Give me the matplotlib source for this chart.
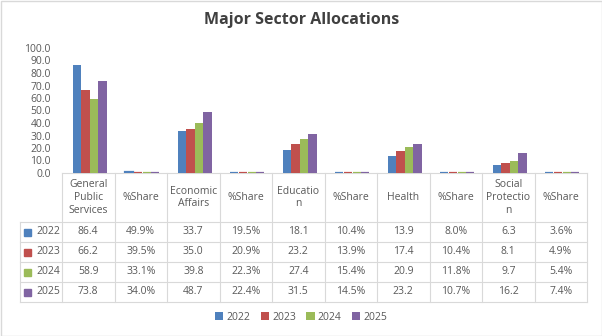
import numpy as np
import matplotlib.pyplot as plt
from matplotlib.patches import Rectangle

categories = ["General\nPublic\nServices", "%Share", "Economic\nAffairs", "%Share",
              "Educatio\nn", "%Share", "Health", "%Share", "Social\nProtectio\nn", "%Share"]
years = ["2022", "2023", "2024", "2025"]
# allocations and shares (share in %)
alloc = {
    "2022": [86.4, 33.7, 18.1, 13.9, 6.3],
    "2023": [66.2, 35.0, 23.2, 17.4, 8.1],
    "2024": [58.9, 39.8, 27.4, 20.9, 9.7],
    "2025": [73.8, 48.7, 31.5, 23.2, 16.2],
}
share = {
    "2022": [49.9, 19.5, 10.4, 8.0, 3.6],
    "2023": [39.5, 20.9, 13.9, 10.4, 4.9],
    "2024": [33.1, 22.3, 15.4, 11.8, 5.4],
    "2025": [34.0, 22.4, 14.5, 10.7, 7.4],
}
colors = ["#4F81BD", "#C0504D", "#9BBB59", "#8064A2"]
txt = "#595959"
grid = "#D9D9D9"
plt.rcParams['font.family'] = ['Open Sans', 'DejaVu Sans']

W, H = 602, 336
fig = plt.figure(figsize=(W / 100, H / 100), dpi=100)

# overlay in pixel coordinates for table and frame
ov = fig.add_axes([0, 0, 1, 1])
ov.set_xlim(0, W)
ov.set_ylim(H, 0)
ov.axis("off")
ov.add_patch(Rectangle((0.5, 0.5), W - 1, H - 1, fill=False, ec="#D9D9D9", lw=1))

L, R, T, B = 62, 587, 48, 173
ax = fig.add_axes([L / W, (H - B) / H, (R - L) / W, (B - T) / H])
n = len(categories)
x = np.arange(n)
bw = 0.165
for i, y in enumerate(years):
    off = (i - 1.5) * bw + 0.03
    ax.bar(x[0::2] + off, alloc[y], bw, color=colors[i], label=y)
    # share bars are tiny on this scale; a thick edge keeps them visible
    ax.bar(x[1::2] + off, np.array(share[y]) / 100, bw * 0.92, color=colors[i],
           edgecolor=colors[i], linewidth=1.6)
ax.set_xlim(-0.5, n - 0.5)
ax.set_ylim(0, 100)
ax.set_yticks(np.arange(0, 101, 10))
ax.set_yticklabels([f"{v:.1f}" for v in np.arange(0, 101, 10)], color=txt, fontsize=7.5)
ax.tick_params(axis="y", length=0, pad=8)
ax.set_xticks([])
for s in ax.spines.values():
    s.set_visible(False)
ax.patch.set_alpha(0)

# data table
cw = (R - L) / n
rows = [B, 222, 242, 262, 282, 302]
for yy in rows:
    ov.plot([20 if yy > B else L, R], [yy, yy], color=grid, lw=0.8)
ov.plot([20, 20], [rows[1], rows[-1]], color=grid, lw=0.8)
for k in range(n + 1):
    ov.plot([L + k * cw] * 2, [B, rows[-1]], color=grid, lw=0.8)
for k, c in enumerate(categories):
    ov.text(L + (k + 0.5) * cw, (rows[0] + rows[1]) / 2, c, ha="center", va="center",
            multialignment="center", color=txt, fontsize=7.5, linespacing=1.25)
for r, y in enumerate(years):
    yc = (rows[r + 1] + rows[r + 2]) / 2
    ov.add_patch(Rectangle((24, yc - 3.5), 7, 7, color=colors[r]))
    ov.text(60, yc, y, ha="right", va="center", color=txt, fontsize=7.5)
    cells = []
    for a, s in zip(alloc[y], share[y]):
        cells += [f"{a:.1f}", f"{s:.1f}%"]
    for k, c in enumerate(cells):
        ov.text(L + (k + 0.5) * cw, yc, c, ha="center", va="center", color=txt, fontsize=7.5)

ov.text(W / 2 + 1, 20, "Major Sector Allocations", ha="center", va="center",
        fontsize=11.5, fontweight="bold", color="#404040")

h, l = ax.get_legend_handles_labels()
fig.legend(h, l, loc="center", bbox_to_anchor=(0.5, (H - 317) / H), ncol=4, frameon=False,
           fontsize=7.5, handlelength=0.8, handleheight=0.8, columnspacing=1.0,
           handletextpad=0.3, labelcolor=txt)

fig.savefig("out.png", dpi=100)
